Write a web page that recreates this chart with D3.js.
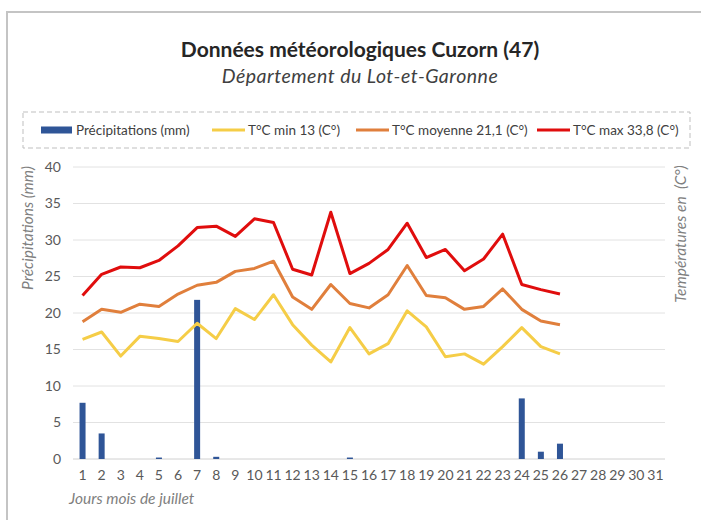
<!DOCTYPE html>
<html>
<head>
<meta charset="utf-8">
<script src="https://cdn.jsdelivr.net/npm/d3@7"></script>
<style>
  body { margin: 0; background: #fff; }
  svg text { font-family: Lato, "Open Sans", sans-serif; }
</style>
</head>
<body>
<div id="chart"></div>
<script>
// jours 1..31
const days = d3.range(1, 32).map(String);
// précipitations (mm), jours 1..26
const precip = [7.7, 3.5, 0, 0, 0.2, 0, 21.8, 0.3, 0, 0, 0, 0, 0, 0, 0.2, 0, 0, 0, 0, 0, 0, 0, 0, 8.3, 1.0, 2.1];
const tMin = [16.4, 17.4, 14.1, 16.8, 16.5, 16.1, 18.6, 16.5, 20.6, 19.1, 22.5, 18.4, 15.6, 13.3, 18.0,
              14.4, 15.8, 20.3, 18.1, 14.0, 14.4, 13.0, 15.4, 18.0, 15.4, 14.4];
const tMoy = [18.8, 20.5, 20.1, 21.2, 20.9, 22.6, 23.8, 24.2, 25.7, 26.1, 27.1, 22.2, 20.5, 23.9, 21.3,
              20.7, 22.5, 26.5, 22.4, 22.1, 20.5, 20.9, 23.3, 20.5, 18.9, 18.4];
const tMax = [22.4, 25.3, 26.3, 26.2, 27.2, 29.2, 31.7, 31.9, 30.5, 32.9, 32.4, 26.0, 25.2, 33.8, 25.4,
              26.8, 28.7, 32.3, 27.6, 28.7, 25.8, 27.4, 30.8, 23.9, 23.2, 22.6];
const yTicks = [0, 5, 10, 15, 20, 25, 30, 35, 40];

const width = 701, height = 520;
const plot = { left: 73, right: 665, top: 167, bottom: 459 };

const svg = d3.select('#chart').append('svg')
    .attr('width', width)
    .attr('height', height);

// cadre
svg.append('rect')
    .attr('x', 7).attr('y', 12)
    .attr('width', 740).attr('height', 560)
    .attr('fill', 'none')
    .attr('stroke', '#c4c4c4')
    .attr('stroke-width', 2);

// titres
svg.append('text')
    .attr('x', 360).attr('y', 57)
    .attr('text-anchor', 'middle')
    .attr('font-size', 21)
    .attr('font-weight', 'bold')
    .attr('fill', '#262626')
    .text('Données météorologiques Cuzorn (47)');

svg.append('text')
    .attr('x', 360).attr('y', 83)
    .attr('text-anchor', 'middle')
    .attr('font-size', 19.5)
    .attr('letter-spacing', 0.5)
    .attr('font-style', 'italic')
    .attr('fill', '#404040')
    .text('Département du Lot-et-Garonne');

const x = d3.scaleBand()
    .domain(days)
    .range([plot.left, plot.right]);

const y = d3.scaleLinear()
    .domain([0, 40])
    .range([plot.bottom, plot.top]);

// grille
svg.append('g')
    .selectAll('line')
    .data(yTicks)
    .join('line')
    .attr('x1', plot.left).attr('x2', plot.right)
    .attr('y1', d => y(d)).attr('y2', d => y(d))
    .attr('stroke', d => d === 0 ? '#d0d0d0' : '#e2e2e2')
    .attr('stroke-width', 1);

// axe gauche
const yAxis = svg.append('g')
    .attr('transform', `translate(${plot.left}, 0)`)
    .call(d3.axisLeft(y).tickValues(yTicks).tickSize(0).tickPadding(12));
yAxis.select('.domain').remove();
yAxis.selectAll('text')
    .attr('font-size', 14)
    .attr('fill', '#595959')
    .style('font-family', 'Lato, sans-serif');

// axe du bas
const xAxis = svg.append('g')
    .attr('transform', `translate(0, ${plot.bottom})`)
    .call(d3.axisBottom(x).tickSize(0).tickPadding(11));
xAxis.select('.domain').remove();
xAxis.selectAll('text')
    .attr('font-size', 14)
    .attr('fill', '#595959')
    .style('font-family', 'Lato, sans-serif');

// barres
const barW = 6;
svg.append('g')
    .selectAll('rect')
    .data(precip)
    .join('rect')
    .attr('x', (d, i) => x(days[i]) + x.bandwidth() / 2 - barW / 2)
    .attr('y', d => y(d))
    .attr('width', barW)
    .attr('height', d => y(0) - y(d))
    .attr('fill', '#2f5597');

// courbes
const line = d3.line()
    .x((d, i) => x(days[i]) + x.bandwidth() / 2)
    .y(d => y(d));

const series = [
    { values: tMin, color: '#f5cd47' },
    { values: tMoy, color: '#e07f3c' },
    { values: tMax, color: '#e00d0d' }
];

svg.append('g')
    .selectAll('path')
    .data(series)
    .join('path')
    .attr('d', d => line(d.values))
    .attr('fill', 'none')
    .attr('stroke', d => d.color)
    .attr('stroke-width', 3)
    .attr('stroke-linejoin', 'round');

// titres des axes
svg.append('text')
    .attr('transform', `translate(33, 228) rotate(-90)`)
    .attr('text-anchor', 'middle')
    .attr('font-size', 15.5)
    .attr('font-style', 'italic')
    .attr('fill', '#7f7f7f')
    .text('Précipitations (mm)');

svg.append('text')
    .attr('transform', `translate(686, 234) rotate(-90)`)
    .attr('text-anchor', 'middle')
    .attr('font-size', 15.5)
    .attr('font-style', 'italic')
    .attr('fill', '#7f7f7f')
    .attr('xml:space', 'preserve')
    .text('Températures en  (C°)');

svg.append('text')
    .attr('x', 69).attr('y', 504)
    .attr('font-size', 15.5)
    .attr('font-style', 'italic')
    .attr('fill', '#7f7f7f')
    .text('Jours mois de juillet');

// légende
svg.append('rect')
    .attr('x', 23).attr('y', 112)
    .attr('width', 667).attr('height', 36)
    .attr('fill', 'none')
    .attr('stroke', '#bfbfbf')
    .attr('stroke-dasharray', '5,3');

const legendItems = [
    { label: 'Précipitations (mm)', color: '#2f5597', type: 'bar', x: 41 },
    { label: 'T°C min 13 (C°)', color: '#f5cd47', type: 'line', x: 212 },
    { label: 'T°C moyenne 21,1 (C°)', color: '#e07f3c', type: 'line', x: 356 },
    { label: 'T°C max 33,8 (C°)', color: '#e00d0d', type: 'line', x: 537 }
];

const leg = svg.append('g')
    .selectAll('g')
    .data(legendItems)
    .join('g')
    .attr('transform', d => `translate(${d.x}, 130)`);

leg.filter(d => d.type === 'bar').append('rect')
    .attr('x', 0).attr('y', -3.5)
    .attr('width', 31).attr('height', 7)
    .attr('fill', d => d.color);

leg.filter(d => d.type === 'line').append('line')
    .attr('x1', 0).attr('x2', 33)
    .attr('y1', 0).attr('y2', 0)
    .attr('stroke', d => d.color)
    .attr('stroke-width', 3);

leg.append('text')
    .attr('x', d => d.type === 'bar' ? 35 : 36)
    .attr('y', 5)
    .attr('font-size', 13.5)
    .attr('fill', '#404040')
    .text(d => d.label);
</script>
</body>
</html>
